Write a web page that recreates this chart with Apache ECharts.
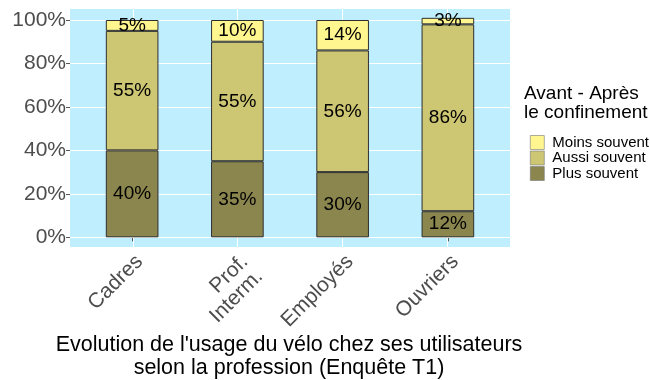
<!DOCTYPE html>
<html>
<head>
<meta charset="utf-8">
<script src="https://cdn.jsdelivr.net/npm/echarts@6/dist/echarts.min.js"></script>
<style>
  html, body { margin: 0; padding: 0; background: #fff; }
  #chart { width: 650px; height: 380px; }
</style>
</head>
<body>
<div id="chart"></div>
<script>
// Professions (x axis)
const categories = ['Cadres', 'Prof.\nInterm.', 'Employés', 'Ouvriers'];
// Share of cyclists per answer, in percent (stacked bottom to top)
const plusSouvent = [40, 35, 30, 12];
const aussiSouvent = [55, 55, 56, 86];
const moinsSouvent = [5, 10, 14, 3];
// Y tick values
const yTicks = [0, 20, 40, 60, 80, 100];

const FONT = "'Liberation Sans', Arial, sans-serif";
const AXIS_GREY = '#4D4D4D';
const COLORS = {
  plus: '#8B864E',
  aussi: '#CDC673',
  moins: '#FFF68F'
};

const chart = echarts.init(document.getElementById('chart'), null, { renderer: 'canvas' });

function barSeries(name, values, color) {
  return {
    name: name,
    type: 'bar',
    stack: 'total',
    xAxisIndex: 0,
    yAxisIndex: 0,
    barWidth: '50%',
    clip: false,
    z: 10,
    data: values,
    itemStyle: { color: color, borderColor: '#2e2e2e', borderWidth: 1 },
    label: {
      show: true,
      position: 'inside',
      formatter: '{c}%',
      color: '#000',
      fontFamily: FONT,
      fontSize: 19
    },
    emphasis: { disabled: true }
  };
}

const option = {
  animation: false,
  grid: [
    // plotting area for the bars and visible axes
    { left: 79.5, right: 149.5, top: 20, bottom: 142.7 },
    // full panel (background and grid lines)
    { left: 70, right: 140, top: 9, bottom: 133, show: true,
      backgroundColor: '#BFEFFF', borderWidth: 0 }
  ],
  xAxis: [
    {
      gridIndex: 0,
      type: 'category',
      data: categories,
      offset: 9.7,
      axisLine: { show: false },
      axisTick: { show: true, alignWithLabel: true, length: 4,
        lineStyle: { color: '#555', width: 1 } },
      axisLabel: {
        rotate: 45,
        align: 'right',
        verticalAlign: 'top',
        margin: 4,
        fontFamily: FONT,
        fontSize: 21,
        lineHeight: 21,
        color: AXIS_GREY
      },
      splitLine: { show: false }
    },
    { gridIndex: 1, type: 'value', min: 0.4, max: 4.6, show: false }
  ],
  yAxis: [
    {
      gridIndex: 0,
      type: 'value',
      min: 0,
      max: 100,
      interval: 20,
      offset: 9.5,
      axisLine: { show: false },
      axisTick: { show: true, length: 4, lineStyle: { color: '#555', width: 1 } },
      axisLabel: {
        formatter: '{value}%',
        margin: 4,
        fontFamily: FONT,
        fontSize: 21,
        color: AXIS_GREY
      },
      splitLine: { show: false }
    },
    { gridIndex: 1, type: 'value', min: -4.46, max: 105.06, show: false }
  ],
  legend: {
    orient: 'vertical',
    left: 525,
    top: 130,
    itemWidth: 14,
    itemHeight: 14,
    itemGap: 0.5,
    icon: 'rect',
    data: ['Moins souvent', 'Aussi souvent', 'Plus souvent'],
    itemStyle: { borderColor: '#777', borderWidth: 0.6 },
    textStyle: {
      fontFamily: FONT,
      fontSize: 15,
      lineHeight: 14,
      color: '#000',
      padding: [0, 0, 0, 3]
    },
    selectedMode: false
  },
  graphic: [
    {
      type: 'text',
      left: 524,
      top: 84,
      style: {
        text: 'Avant - Après\nle confinement',
        fontFamily: FONT,
        fontSize: 19,
        lineHeight: 19,
        fill: '#000'
      }
    },
    {
      type: 'text',
      x: 289,
      y: 334,
      style: {
        text: "Evolution de l'usage du vélo chez ses utilisateurs\nselon la profession (Enquête T1)",
        fontFamily: FONT,
        fontSize: 21.5,
        lineHeight: 22.5,
        fill: '#000',
        align: 'center',
        verticalAlign: 'top'
      }
    }
  ],
  series: [
    // white panel grid lines, kept underneath the bars
    {
      type: 'line',
      xAxisIndex: 1,
      yAxisIndex: 1,
      data: [],
      z: 1,
      silent: true,
      markLine: {
        z: 1,
        silent: true,
        symbol: ['none', 'none'],
        label: { show: false },
        lineStyle: { color: '#ffffff', width: 1, type: 'solid' },
        emphasis: { disabled: true },
        data: yTicks.map(v => ({ yAxis: v }))
          .concat(categories.map((c, i) => ({ xAxis: i + 1 })))
      }
    },
    barSeries('Plus souvent', plusSouvent, COLORS.plus),
    barSeries('Aussi souvent', aussiSouvent, COLORS.aussi),
    barSeries('Moins souvent', moinsSouvent, COLORS.moins)
  ]
};

chart.setOption(option);
</script>
</body>
</html>
